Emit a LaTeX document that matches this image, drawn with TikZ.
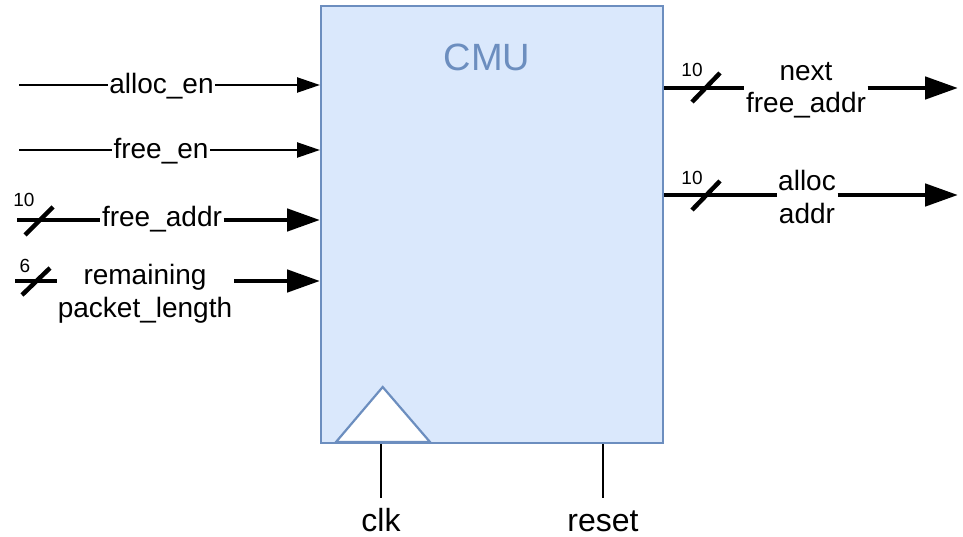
\documentclass[tikz,border=0pt]{standalone}
\usepackage{fontspec}
\setmainfont{Liberation Sans}
\usetikzlibrary{arrows.meta}
\definecolor{boxfill}{HTML}{DAE8FC}
\definecolor{boxdraw}{HTML}{6C8EBF}
\begin{document}
\begin{tikzpicture}[x=1pt,y=-1pt,
  lbl/.style={font=\fontsize{28}{32.5}\selectfont, inner xsep=1.5pt, inner ysep=0pt, align=center},
  biglbl/.style={font=\fontsize{32}{36}\selectfont, inner sep=0pt},
  small/.style={font=\fontsize{19}{20}\selectfont, inner sep=0pt},
  thinline/.style={line width=2.4pt},
  busline/.style={line width=4.8pt},
  thinarrow/.style={thinline,-{Triangle[length=23pt,width=15pt]}},
  busarrow/.style={busline,-{Triangle[length=33pt,width=22pt]}},
  slash/.style={line width=4.5pt},
  pin/.style={line width=2.8pt}
]
\useasboundingbox (0,0) rectangle (963,537);
% main block
\node[draw=boxdraw, fill=boxfill, line width=2.2pt, minimum width=342pt, minimum height=437pt, inner sep=0pt, anchor=north west] (cmu) at (320,5) {};
\node[text=boxdraw, font=\fontsize{38}{40}\selectfont, inner sep=0pt] (title) at (487,57.5) {CMU};
% clock triangle
\draw[boxdraw, fill=white, line width=2.2pt, line join=miter] (336,442) -- (382.7,387) -- (430,442) -- cycle;

% alloc_en
\coordinate (ain) at (19,85);
\node[lbl] (alab) at (161.5,86) {alloc\_en};
\draw[thinline] (ain) -- (alab.west |- ain);
\draw[thinarrow] (alab.east |- ain) -- (cmu.west |- ain);

% free_en
\coordinate (fin) at (19,150);
\node[lbl] (flab) at (161,151) {free\_en};
\draw[thinline] (fin) -- (flab.west |- fin);
\draw[thinarrow] (flab.east |- fin) -- (cmu.west |- fin);

% free_addr
\coordinate (fain) at (17,220);
\node[lbl] (falab) at (162,219) {free\_addr};
\draw[busline] (fain) -- (falab.west |- fain);
\draw[busarrow] (falab.east |- fain) -- (cmu.west |- fain);
\draw[slash] (25,235) -- (53,207);
\node[small] (faw) at (24,200) {10};

% remaining packet_length
\coordinate (rin) at (15,281);
\node[lbl, inner xsep=0pt] (rlab) at (145,294) {remaining\\packet\_length};
\draw[busline] (rin) -- ([xshift=-1pt]rlab.west |- rin);
\draw[busarrow] ([xshift=2pt]rlab.east |- rin) -- (cmu.west |- rin);
\draw[slash] (22,295) -- (50,268);
\node[small] (rw) at (25,266) {6};

% next free_addr
\coordinate (nout) at (958,88);
\node[lbl] (nlab) at (806,90) {next\\free\_addr};
\draw[busline] (cmu.east |- nout) -- (nlab.west |- nout);
\draw[busarrow] (nlab.east |- nout) -- (nout);
\draw[slash] (692,102) -- (720,73);
\node[small] (nw) at (692,70) {10};

% alloc addr
\coordinate (aout) at (958,195);
\node[lbl] (aalab) at (807,197) {alloc\\addr};
\draw[busline] (cmu.east |- aout) -- (aalab.west |- aout);
\draw[busarrow] (aalab.east |- aout) -- (aout);
\draw[slash] (692,210) -- (720,181);
\node[small] (aw) at (692,178) {10};

% clk and reset
\coordinate (clkend) at (381,498);
\coordinate (rstend) at (603,498);
\draw[pin] (clkend |- cmu.south) -- (clkend);
\draw[pin] (rstend |- cmu.south) -- (rstend);
\node[biglbl] (clklab) at (381,520) {clk};
\node[biglbl] (rstlab) at (603,521) {reset};
\end{tikzpicture}
\end{document}
